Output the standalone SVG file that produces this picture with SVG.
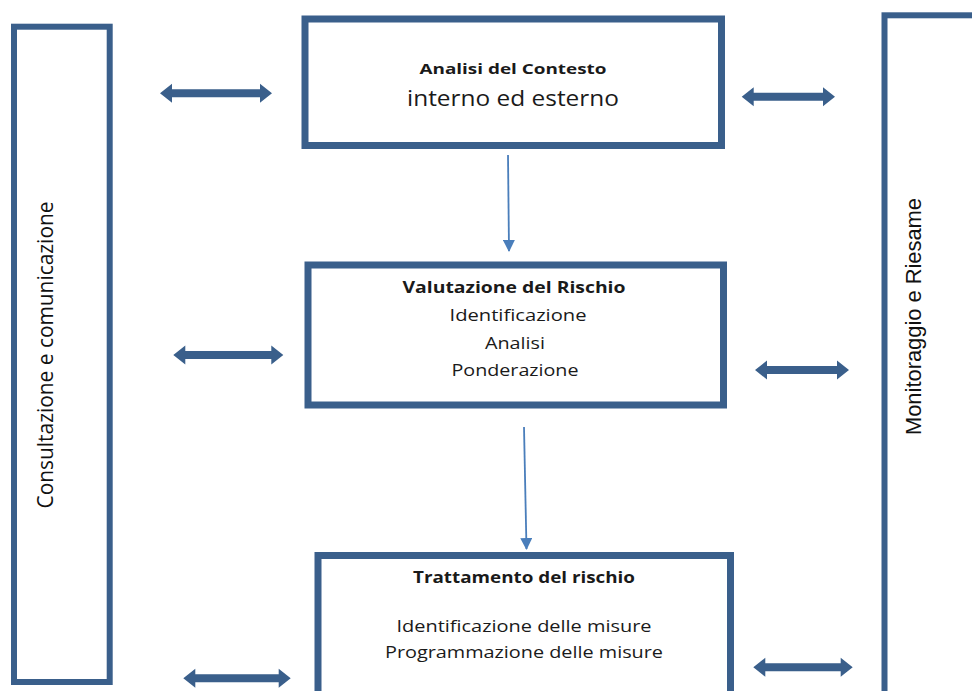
<svg xmlns="http://www.w3.org/2000/svg" width="972" height="691" viewBox="0 0 972 691">
<style>
.box{fill:#fff;stroke:#3A5F8B;stroke-width:7}
.side{fill:#fff;stroke:#3A5F8B;stroke-width:6}
.dbl{fill:#3A5F8B}
.flow{stroke:#4A7EBB;stroke-width:1.8;fill:none}
.t{font-family:"Open Sans","Noto Sans",sans-serif;fill:#1a1a1a;text-anchor:middle}
.b{font-weight:bold}
.v{font-family:"Open Sans","Noto Sans",sans-serif;fill:#111;text-anchor:middle;font-size:22px}
.va{font-family:"Liberation Sans",Arial,sans-serif;fill:#111;text-anchor:middle;font-size:22px}
</style>
<defs>
<marker id="ah" markerWidth="12" markerHeight="12" refX="11" refY="6" orient="auto" markerUnits="userSpaceOnUse">
<path d="M0,0 L12,6 L0,12 Z" fill="#4A7EBB"/>
</marker>
</defs>
<rect width="972" height="691" fill="#fff"/>
<g id="consultazione">
<rect class="side" x="14" y="26.7" width="95.7" height="655.3"/>
<text class="v" transform="translate(53,355) rotate(-90)" textLength="307" lengthAdjust="spacingAndGlyphs">Consultazione e comunicazione</text>
</g>
<g id="monitoraggio">
<rect class="side" x="884.5" y="15.3" width="120" height="700"/>
<text class="va" transform="translate(921,316.5) rotate(-90)" textLength="237" lengthAdjust="spacingAndGlyphs">Monitoraggio e Riesame</text>
</g>
<g id="analisi">
<rect class="box" x="305" y="19" width="416.5" height="126.5"/>
<text class="t b" x="513" y="74" font-size="14.5" textLength="187" lengthAdjust="spacingAndGlyphs">Analisi del Contesto</text>
<text class="t" x="513" y="106" font-size="21" textLength="212" lengthAdjust="spacingAndGlyphs">interno ed esterno</text>
</g>
<g id="valutazione">
<rect class="box" x="308" y="265" width="415.5" height="140"/>
<text class="t b" x="514" y="292.7" font-size="15.5" textLength="223" lengthAdjust="spacingAndGlyphs">Valutazione del Rischio</text>
<text class="t" x="518" y="321" font-size="16" textLength="137" lengthAdjust="spacingAndGlyphs">Identificazione</text>
<text class="t" x="515" y="349" font-size="16" textLength="60" lengthAdjust="spacingAndGlyphs">Analisi</text>
<text class="t" x="515" y="376" font-size="16" textLength="127" lengthAdjust="spacingAndGlyphs">Ponderazione</text>
</g>
<g id="trattamento">
<rect class="box" x="318" y="555.5" width="412.5" height="200"/>
<text class="t b" x="524" y="583.3" font-size="15.5" textLength="222" lengthAdjust="spacingAndGlyphs">Trattamento del rischio</text>
<text class="t" x="524" y="632" font-size="16" textLength="255" lengthAdjust="spacingAndGlyphs">Identificazione delle misure</text>
<text class="t" x="524" y="658" font-size="16" textLength="278" lengthAdjust="spacingAndGlyphs">Programmazione delle misure</text>
</g>
<g id="connectors">
<line class="flow" x1="508" y1="155" x2="509" y2="251" marker-end="url(#ah)"/>
<line class="flow" x1="524" y1="427" x2="526.5" y2="549" marker-end="url(#ah)"/>
<path class="dbl" d="M160,93.3 L172,83.8 L172,89.3 L260,89.3 L260,83.8 L272,93.3 L260,102.8 L260,97.3 L172,97.3 L172,102.8 Z"/>
<path class="dbl" d="M741.7,96.7 L753.7,87.2 L753.7,92.7 L823,92.7 L823,87.2 L835,96.7 L823,106.2 L823,100.7 L753.7,100.7 L753.7,106.2 Z"/>
<path class="dbl" d="M173.3,355 L185.3,345.5 L185.3,351 L271.3,351 L271.3,345.5 L283.3,355 L271.3,364.5 L271.3,359 L185.3,359 L185.3,364.5 Z"/>
<path class="dbl" d="M755,370 L767,360.5 L767,366 L837,366 L837,360.5 L849,370 L837,379.5 L837,374 L767,374 L767,379.5 Z"/>
<path class="dbl" d="M183.3,678.3 L195.3,668.8 L195.3,674.3 L278.7,674.3 L278.7,668.8 L290.7,678.3 L278.7,687.8 L278.7,682.3 L195.3,682.3 L195.3,687.8 Z"/>
<path class="dbl" d="M753.3,667.3 L765.3,657.8 L765.3,663.3 L840.7,663.3 L840.7,657.8 L852.7,667.3 L840.7,676.8 L840.7,671.3 L765.3,671.3 L765.3,676.8 Z"/>
</g>
</svg>
